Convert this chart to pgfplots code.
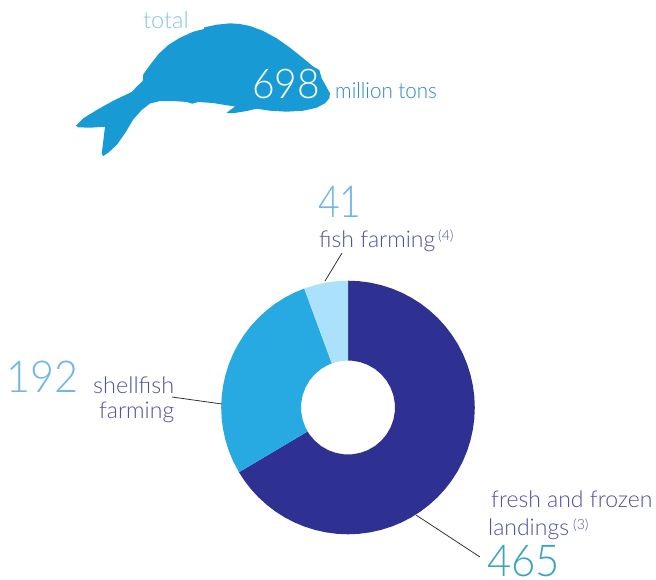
\documentclass[border=0pt]{standalone}
\usepackage{fontspec}
\usepackage{graphicx}
\usepackage{pgfplots}
\pgfplotsset{compat=1.18}
\usepgfplotslibrary{polar}
\setmainfont{Lato Light}
\definecolor{whale}{HTML}{189BD5}
\definecolor{dark}{HTML}{2E3192}
\definecolor{mid}{HTML}{27AAE1}
\definecolor{light}{HTML}{ABE1FA}
\definecolor{labviolet}{HTML}{4F4FA0}
\definecolor{numblue}{HTML}{6DB6E6}
\definecolor{numteal}{HTML}{3AA5BC}
\definecolor{totalc}{HTML}{84C2EC}
\definecolor{tonsc}{HTML}{2E86C1}
\begin{document}
\begin{tikzpicture}
\path[use as bounding box] (0,0) rectangle (656pt,579pt);
\begin{polaraxis}[
  at={(348pt,171.5pt)}, anchor=origin,
  scale only axis, width=253.6pt, height=253.6pt,
  xmin=0, xmax=360, ymin=0, ymax=126.8,
  hide axis, clip=false]
% fresh and frozen landings 465
\addplot[draw=none, fill=dark] coordinates {
(90,126.8)(85,126.8)(80,126.8)(75,126.8)(70,126.8)(65,126.8)(60,126.8)(55,126.8)(50,126.8)(45,126.8)(40,126.8)(35,126.8)(30,126.8)(25,126.8)(20,126.8)(15,126.8)(10,126.8)(5,126.8)(0,126.8)
(-5,126.8)(-10,126.8)(-15,126.8)(-20,126.8)(-25,126.8)(-30,126.8)(-35,126.8)(-40,126.8)(-45,126.8)(-50,126.8)(-55,126.8)(-60,126.8)(-65,126.8)(-70,126.8)(-75,126.8)(-80,126.8)(-85,126.8)(-90,126.8)
(-95,126.8)(-100,126.8)(-105,126.8)(-110,126.8)(-115,126.8)(-120,126.8)(-125,126.8)(-130,126.8)(-135,126.8)(-140,126.8)(-145,126.8)(-149.3,126.8)
(-149.3,47)(-145,47)(-135,47)(-125,47)(-115,47)(-105,47)(-95,47)(-85,47)(-75,47)(-65,47)(-55,47)(-45,47)(-35,47)(-25,47)(-15,47)(-5,47)(5,47)(15,47)(25,47)(35,47)(45,47)(55,47)(65,47)(75,47)(85,47)(90,47)
} -- cycle;
% shellfish farming 192
\addplot[draw=none, fill=mid] coordinates {
(210.7,126.8)(205,126.8)(200,126.8)(195,126.8)(190,126.8)(185,126.8)(180,126.8)(175,126.8)(170,126.8)(165,126.8)(160,126.8)(155,126.8)(150,126.8)(145,126.8)(140,126.8)(135,126.8)(130,126.8)(125,126.8)(120,126.8)(115,126.8)(110.2,126.8)
(110.2,47)(115,47)(125,47)(135,47)(145,47)(155,47)(165,47)(175,47)(185,47)(195,47)(205,47)(210.7,47)
} -- cycle;
% fish farming 41
\addplot[draw=none, fill=light] coordinates {
(110.2,126.8)(105,126.8)(100,126.8)(95,126.8)(90,126.8)
(90,47)(100,47)(105,47)(110.2,47)
} -- cycle;
\end{polaraxis}
\begin{axis}[
  at={(0,0)}, anchor=south west,
  scale only axis, width=656pt, height=579pt,
  xmin=0, xmax=656, ymin=0, ymax=579, y dir=reverse,
  hide axis, clip=false]
% whale outline
\addplot[draw=none, fill=whale] coordinates {
(76,125.7)(83.3,118.3)(96.7,110)(113.3,100.7)(131.7,92)(136.7,86.7)(142.7,81)(143.3,74.3)(150,65)(158.3,54.3)(168.3,45)(180,37.7)(193.3,31.7)(204,29)(204.3,27.3)(216.7,24.7)(230,23.3)
(240,24)(250,26)(263.3,31)(276.7,38.3)(290,47.7)(303.3,58.3)(313.3,66.7)(319.3,70)(321.7,78.3)(330,93.3)(329.3,98.3)(325,103.3)(316.7,107.7)(303.3,110.7)(286.7,111.7)(270,110.7)(256.7,108.7)(246.7,111)(236.7,112.7)(230,113.3)(226.7,112.7)
(235,106.5)(223.3,104.7)(213.3,103)(198.3,102)(192.3,103.7)(186.7,102)(173.3,101)(160,101)(150,103.5)(141.7,110)(133.3,119.3)(125,133.3)(116.7,145)(108.3,152.7)(103.3,156)(101.7,154)(105,126.7)(90,127.7)(78.3,127.3)
} -- cycle;
% leader lines
\addplot[black!80, line width=0.8pt] coordinates {(342,253)(325,281)};
\addplot[black!80, line width=0.8pt] coordinates {(172,397)(222,404)};
\addplot[black!80, line width=0.8pt] coordinates {(416,515)(480,557)};
\tikzset{t/.style={inner sep=0pt, anchor=base west}}
\node[t, text=totalc, font=\fontsize{23.5}{23.5}\selectfont] at (axis cs:143,28) {total};
\node[t, text=white, font=\fontsize{41}{41}\selectfont] at (axis cs:252,98) {\scalebox{.95}[1]{698}};
\node[t, text=tonsc, font=\fontsize{22}{22}\selectfont] at (axis cs:335,98) {\scalebox{.935}[1]{million tons}};
\node[t, text=numblue, font=\fontsize{44}{44}\selectfont] at (axis cs:318,217) {\scalebox{.85}[1]{41}};
\node[t, text=labviolet, font=\fontsize{23}{23}\selectfont] at (axis cs:319,247) {fish farming};
\node[t, text=labviolet, font=\fontsize{14}{14}\selectfont] at (axis cs:438,240) {(4)};
\node[t, text=numblue, font=\fontsize{44}{44}\selectfont] at (axis cs:6,392) {\scalebox{.94}[1]{192}};
\node[t, text=labviolet, font=\fontsize{23}{23}\selectfont] at (axis cs:93,393) {\scalebox{1.02}[1]{shellfish}};
\node[t, text=labviolet, font=\fontsize{23}{23}\selectfont] at (axis cs:99,418) {farming};
\node[t, text=labviolet, font=\fontsize{23}{23}\selectfont] at (axis cs:491,507) {fresh and frozen};
\node[t, text=labviolet, font=\fontsize{23}{23}\selectfont] at (axis cs:488,535) {landings};
\node[t, text=labviolet, font=\fontsize{14}{14}\selectfont] at (axis cs:573,529) {(3)};
\node[t, text=numteal, font=\fontsize{44}{44}\selectfont] at (axis cs:487,576) {\scalebox{.95}[1]{465}};
\end{axis}
\end{tikzpicture}
\end{document}
